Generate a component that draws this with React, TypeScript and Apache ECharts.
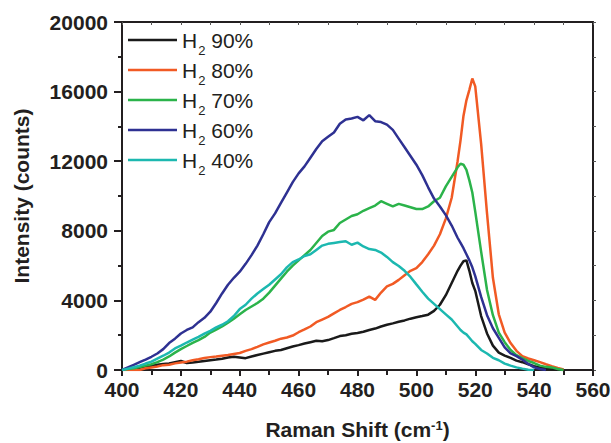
import React, { useEffect, useRef } from "react";
import * as echarts from "echarts";

const ramanShift = [
  400, 402, 404, 406, 408, 410, 412, 414, 416, 418, 420, 422, 424, 426, 428, 430, 432, 434, 436, 438,
  440, 442, 444, 446, 448, 450, 452, 454, 456, 458, 460, 462, 464, 466, 468, 470, 472, 474, 476, 478,
  480, 482, 484, 486, 488, 490, 492, 494, 496, 498, 500, 502, 504, 506, 508, 510, 512, 514,
  515, 516, 517, 518, 519, 520,
  522, 524, 526, 528, 530, 532, 534, 536, 538, 540, 542, 544, 546, 548, 550,
];

const h2_90 = [
  0, 40, 80, 130, 180, 250, 300, 340, 370, 450, 520, 400, 430, 470, 520, 560, 600, 650, 720, 760,
  720, 680, 780, 860, 940, 1020, 1100, 1150, 1250, 1350, 1430, 1520, 1600, 1680, 1650, 1720, 1830, 1950, 2000, 2080,
  2130, 2200, 2300, 2380, 2500, 2600, 2680, 2770, 2850, 2950, 3030, 3100, 3180, 3400, 3750, 4300, 5000, 5700,
  6000, 6250, 6300, 5700, 5000, 4550,
  3100, 2100, 1400, 1000, 830, 700, 540, 450, 330, 220, 150, 100, 60, 30, 0,
];

const h2_80 = [
  0, 0, 0, 0, 100, 150, 200, 280, 300, 380, 430, 480, 560, 620, 690, 740, 770, 820, 860, 920,
  980, 1100, 1200, 1330, 1470, 1580, 1680, 1800, 1870, 1980, 2170, 2330, 2500, 2750, 2900, 3050, 3250, 3450, 3620, 3800,
  3900, 4050, 4220, 4030, 4450, 4800, 4950, 5180, 5450, 5700, 5850, 6200, 6650, 7150, 7800, 8700, 9900, 12000,
  13200, 14600, 15500, 16100, 16750, 16300,
  13000, 9000, 5300, 3200, 2150, 1550, 1100, 800, 660, 560, 450, 330, 220, 120, 30,
];

const h2_70 = [
  0, 50, 100, 170, 250, 330, 450, 600, 780, 1000, 1200, 1380, 1560, 1720, 1900, 2150, 2320, 2500, 2720, 2950,
  3200, 3450, 3650, 3850, 4100, 4450, 4850, 5250, 5650, 6000, 6300, 6600, 6900, 7300, 7700, 7950, 8050, 8450, 8650, 8850,
  8950, 9150, 9300, 9450, 9700, 9550, 9400, 9550, 9450, 9350, 9250, 9250, 9400, 9700, 9900, 10550, 11100, 11650,
  11850, 11800, 11500, 10900, 10200, 9100,
  6800, 4600, 3150, 2150, 1600, 1150, 850, 680, 520, 400, 250, 180, 150, 60, 0,
];

const h2_60 = [
  0, 150, 300, 450, 600, 760, 950, 1200, 1550, 1800, 2100, 2300, 2450, 2750, 3000, 3350, 3850, 4400, 4900, 5300,
  5650, 6100, 6600, 7150, 7800, 8500, 9000, 9600, 10200, 10800, 11300, 11700, 12200, 12700, 13150, 13400, 13650, 14150, 14400, 14450,
  14550, 14350, 14650, 14300, 14250, 14100, 13800, 13300, 12800, 12300, 11800, 11200, 10500, 9850, 9400, 8900, 8300, 7600,
  7300, 7000, 6650, 6300, 5900, 5400,
  4200, 3150, 2400, 1850, 1300, 950, 800, 600, 350, 150, 60, 0, null, null, null,
];

const h2_40 = [
  0, 80, 160, 250, 370, 480, 650, 820, 1000, 1240, 1400, 1580, 1740, 1900, 2090, 2250, 2450, 2600, 2800, 3100,
  3500, 3750, 4100, 4400, 4650, 4900, 5200, 5500, 5900, 6200, 6350, 6550, 6650, 6900, 7150, 7250, 7300, 7350, 7400, 7200,
  7320, 7100, 6950, 6900, 6750, 6500, 6200, 5980, 5700, 5350, 4920, 4500, 4100, 3800, 3500, 3200, 2900, 2500,
  2300, 2150, 2050, 1850, 1650, 1500,
  1150, 950, 700, 560, 370, 250, 150, 80, 20, 0, null, null, null, null, null,
];

const seriesNames = ["H2 90%", "H2 80%", "H2 70%", "H2 60%", "H2 40%"];
const seriesValues = [h2_90, h2_80, h2_70, h2_60, h2_40];
const seriesColors = ["#1a1a1a", "#f15a24", "#2bb34a", "#2e3192", "#1cb8b0"];

const FONT = "'Liberation Sans', Arial, Helvetica, sans-serif";
const INK = "#231f20";

export default function App() {
  const ref = useRef<HTMLDivElement>(null);

  useEffect(() => {
    if (!ref.current) return;
    const chart = echarts.init(ref.current, undefined, { renderer: "svg" });

    const series = seriesNames.map((name, si) => ({
      name,
      type: "line",
      symbol: "none",
      showSymbol: false,
      xAxisIndex: 0,
      yAxisIndex: 0,
      lineStyle: { color: seriesColors[si], width: 2.5 },
      itemStyle: { color: seriesColors[si] },
      data: ramanShift
        .map((x, i) => [x, seriesValues[si][i]])
        .filter((p) => p[1] !== null && p[1] !== undefined),
    }));

    const axisLineStyle = { color: INK, width: 2 };
    const thinTick = { color: "#555555", width: 1 };
    const plain = (v: number) => String(v);

    chart.setOption({
      animation: false,
      backgroundColor: "#ffffff",
      textStyle: { fontFamily: FONT },
      grid: { left: 122, right: 18, top: 22, bottom: 73, outerBoundsMode: "none" },
      legend: {
        orient: "vertical",
        left: 128,
        top: 27,
        padding: 0,
        itemWidth: 49,
        itemHeight: 14,
        itemGap: 0,
        data: seriesNames,
        icon: "path://M0,0 L49,0 L49,2.6 L0,2.6 Z",
        formatter: (name: string) => name.replace("H2", "H{s|2}"),
        textStyle: {
          fontFamily: FONT,
          fontSize: 21,
          color: INK,
          lineHeight: 26,
          rich: {
            s: {
              fontSize: 13,
              lineHeight: 8,
              verticalAlign: "top",
              padding: [17, 0, 0, 1],
              fontFamily: FONT,
              color: INK,
            },
          },
        },
      },
      xAxis: [
        {
          type: "value",
          position: "bottom",
          min: 400,
          max: 560,
          interval: 20,
          name: "Raman Shift (cm{sup|-1})",
          nameLocation: "middle",
          nameGap: 49,
          nameTextStyle: {
            fontFamily: FONT,
            fontSize: 21,
            fontWeight: "bold",
            color: INK,
            rich: {
              sup: { fontSize: 13, fontWeight: "bold", verticalAlign: "top", lineHeight: 10, color: INK, fontFamily: FONT },
            },
          },
          axisLine: { onZero: false, lineStyle: axisLineStyle },
          axisTick: { inside: false, length: 6, lineStyle: axisLineStyle },
          minorTick: { show: true, splitNumber: 2, length: 5, lineStyle: axisLineStyle },
          splitLine: { show: false },
          axisLabel: { fontFamily: FONT, fontSize: 21, fontWeight: "bold", color: INK, margin: 9, formatter: plain },
        },
        {
          type: "value",
          position: "top",
          min: 400,
          max: 560,
          interval: 20,
          axisLine: { onZero: false, lineStyle: axisLineStyle },
          axisTick: { show: true, inside: true, length: 3, lineStyle: thinTick },
          minorTick: { show: true, splitNumber: 2, length: 3, lineStyle: thinTick },
          splitLine: { show: false },
          axisLabel: { show: false },
        },
      ],
      yAxis: [
        {
          type: "value",
          position: "left",
          min: 0,
          max: 20000,
          interval: 4000,
          name: "Intensity (counts)",
          nameLocation: "middle",
          nameGap: 90,
          nameTextStyle: { fontFamily: FONT, fontSize: 21, fontWeight: "bold", color: INK },
          axisLine: { onZero: false, lineStyle: axisLineStyle },
          axisTick: { inside: false, length: 8, lineStyle: axisLineStyle },
          minorTick: { show: true, splitNumber: 2, length: 4, lineStyle: axisLineStyle },
          splitLine: { show: false },
          axisLabel: { fontFamily: FONT, fontSize: 21, fontWeight: "bold", color: INK, margin: 14, formatter: plain },
        },
        {
          type: "value",
          position: "right",
          min: 0,
          max: 20000,
          interval: 4000,
          axisLine: { onZero: false, lineStyle: axisLineStyle },
          axisTick: { show: true, inside: false, length: 3, lineStyle: thinTick },
          minorTick: { show: true, splitNumber: 2, length: 3, lineStyle: thinTick },
          splitLine: { show: false },
          axisLabel: { show: false },
        },
      ],
      series,
    });

    return () => chart.dispose();
  }, []);

  return (
    <div
      ref={ref}
      style={{ position: "fixed", left: 0, top: 0, width: 611, height: 443, background: "#fff" }}
    />
  );
}
